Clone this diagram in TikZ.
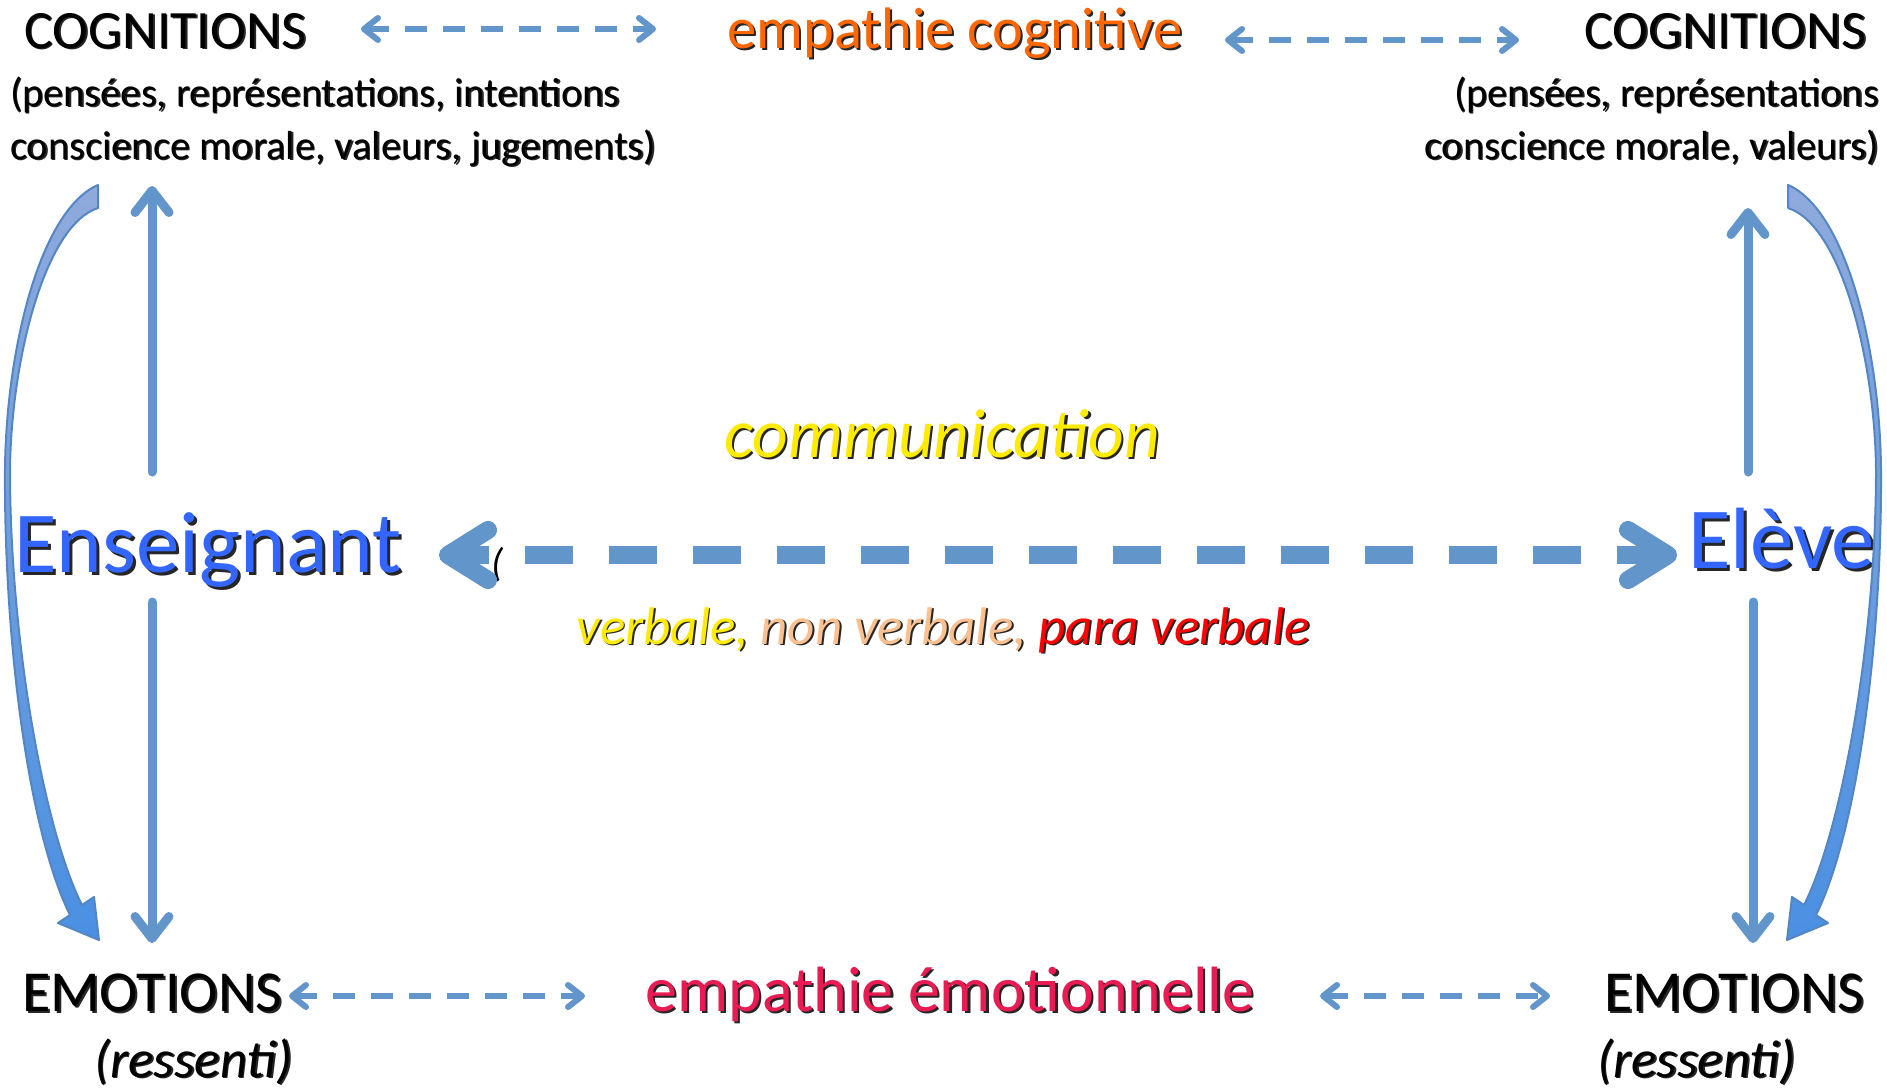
\documentclass[tikz,border=0pt]{standalone}
\usepackage{fontspec}
\setmainfont{Carlito}
\usetikzlibrary{arrows.meta}
\definecolor{arrowblue}{RGB}{98,150,202}
\definecolor{curvetop}{RGB}{143,170,220}
\definecolor{curvebot}{RGB}{74,144,226}
\definecolor{curveedge}{RGB}{84,134,196}
\definecolor{persblue}{RGB}{51,102,255}
\definecolor{ecogorange}{RGB}{255,102,0}
\definecolor{commyellow}{RGB}{255,235,0}
\definecolor{peach}{RGB}{250,192,144}
\definecolor{parared}{RGB}{255,0,0}
\definecolor{emored}{RGB}{232,28,82}
\newcommand\shd[2]{\leavevmode\rlap{\kern0.035em\raisebox{-0.035em}{\color{black!85}#2}}{\color{#1}#2}}
\newcommand\shdonly[1]{\leavevmode\rlap{\kern0.035em\raisebox{-0.035em}{\color{black!85}#1}}}
\newcommand\fsz[2]{\fontsize{#1}{#2}\selectfont}
\tikzset{
  txt/.style={inner sep=0pt, outer sep=0pt},
  vline/.style={draw=arrowblue, line width=9pt, line cap=round,
    -{Straight Barb[length=22pt,width=34pt,line cap=round,line join=round]}},
  bigdash/.style={draw=arrowblue, line width=18pt, dash pattern=on 48pt off 36pt, dash phase=16pt,
    {Straight Barb[length=40pt,width=50pt,line cap=round,line join=round]}-{Straight Barb[length=40pt,width=50pt,line cap=round,line join=round]}},
  smalldash/.style={draw=arrowblue, line width=6pt, dash pattern=on 22pt off 16pt,
    {Straight Barb[length=14pt,width=22pt,line cap=round,line join=round]}-{Straight Barb[length=14pt,width=22pt,line cap=round,line join=round]}},
  curvearrow/.style={draw=curveedge, line width=2pt, line join=round, top color=curvetop, bottom color=curvebot}
}
\begin{document}
\begin{tikzpicture}[x=1pt,y=-1pt]
\path[use as bounding box, fill=white] (0,0) rectangle (1887,1090);

% texts
\node[txt, anchor=base west, font=\fsz{54}{64}] (cogL) at (24,48) {\shd{black}{COGNITIONS}};
\node[txt, anchor=base west, align=left, font=\fsz{40.5}{53}] (cogLt) at (10,159) {\shd{black}{(pensées, représentations, intentions}\\\shd{black}{conscience morale, valeurs, jugements)}};
\node[txt, anchor=base, font=\fsz{58.5}{70}] (ecog) at (955,48) {\shd{ecogorange}{empathie cognitive}};
\node[txt, anchor=base west, font=\fsz{54}{64}] (cogR) at (1584,48) {\shd{black}{COGNITIONS}};
\node[txt, anchor=base east, align=right, font=\fsz{40.5}{53}] (cogRt) at (1879,159) {\shd{black}{(pensées, représentations}\\\shd{black}{conscience morale, valeurs)}};
\node[txt, anchor=base, font=\fsz{69.5}{80}\itshape] (comm) at (942,457) {\shd{commyellow}{communication}};
\node[txt, anchor=base west, font=\fsz{87}{100}] (ens) at (14,572) {\shd{persblue}{Enseignant}};
\node[txt, anchor=base west, font=\fsz{87}{100}] (elv) at (1688,568) {\shd{persblue}{Elève}};
\node[txt, anchor=base, font=\fsz{53}{64}\itshape] (verb) at (943,644) {\shdonly{verbale, non verbale, para verbale}\textcolor{commyellow}{verbale,} \textcolor{peach}{non verbale,} \textcolor{parared}{para verbale}};
\node[txt, anchor=base west, font=\fsz{58}{68}] (emoL) at (22,1011) {\shd{black}{EMOTIONS}};
\node[txt, anchor=base west, font=\fsz{53}{64}\itshape] (resL) at (94,1077) {\shd{black}{(ressenti)}};
\node[txt, anchor=base, font=\fsz{64}{76}] (eemo) at (950,1011) {\shd{emored}{empathie émotionnelle}};
\node[txt, anchor=base west, font=\fsz{58}{68}] (emoR) at (1604,1011) {\shd{black}{EMOTIONS}};
\node[txt, anchor=base west, font=\fsz{53}{64}\itshape] (resR) at (1597,1077) {\shd{black}{(ressenti)}};
\node[txt, anchor=base, font=\fsz{40}{48}\itshape] (mark) at (498,576) {(};

% connector end points
\coordinate (lupS) at (152,472);  \coordinate (lupE) at (152,186);
\coordinate (ldnS) at (152,602);  \coordinate (ldnE) at (152,943);
\coordinate (rupS) at (1748,472); \coordinate (rupE) at (1748,208);
\coordinate (rdnS) at (1753,602); \coordinate (rdnE) at (1753,943);
\coordinate (cL) at (439,555);    \coordinate (cR) at (1677,555);
\coordinate (t1a) at (361,29);    \coordinate (t1b) at (656,29);
\coordinate (t2a) at (1225,40);   \coordinate (t2b) at (1519,40);
\coordinate (b1a) at (289,996);   \coordinate (b1b) at (585,996);
\coordinate (b2a) at (1320,996);  \coordinate (b2b) at (1550,996);

\draw[vline] (lupS) -- (lupE);
\draw[vline] (ldnS) -- (ldnE);
\draw[vline] (rupS) -- (rupE);
\draw[vline] (rdnS) -- (rdnE);
\draw[bigdash] (cL) -- (cR);
\draw[smalldash] (t1a) -- (t1b);
\draw[smalldash] (t2a) -- (t2b);
\draw[smalldash] (b1a) -- (b1b);
\draw[smalldash] (b2a) -- (b2b);

% curved arrows
\path[curvearrow]
 (98,185) .. controls (40,210) and (6,350) .. (5,470)
 .. controls (4,640) and (28,830) .. (70,915)
 -- (58,923) -- (99,940) -- (94,897) -- (82,905)
 .. controls (44,830) and (10,640) .. (10,470)
 .. controls (11,360) and (45,225) .. (98,208) -- cycle;
\begin{scope}[xshift=1886pt, xscale=-1]
\path[curvearrow]
 (98,185) .. controls (40,210) and (6,350) .. (5,470)
 .. controls (4,640) and (28,830) .. (70,915)
 -- (58,923) -- (99,940) -- (94,897) -- (82,905)
 .. controls (44,830) and (10,640) .. (10,470)
 .. controls (11,360) and (45,225) .. (98,208) -- cycle;
\end{scope}
\end{tikzpicture}
\end{document}
